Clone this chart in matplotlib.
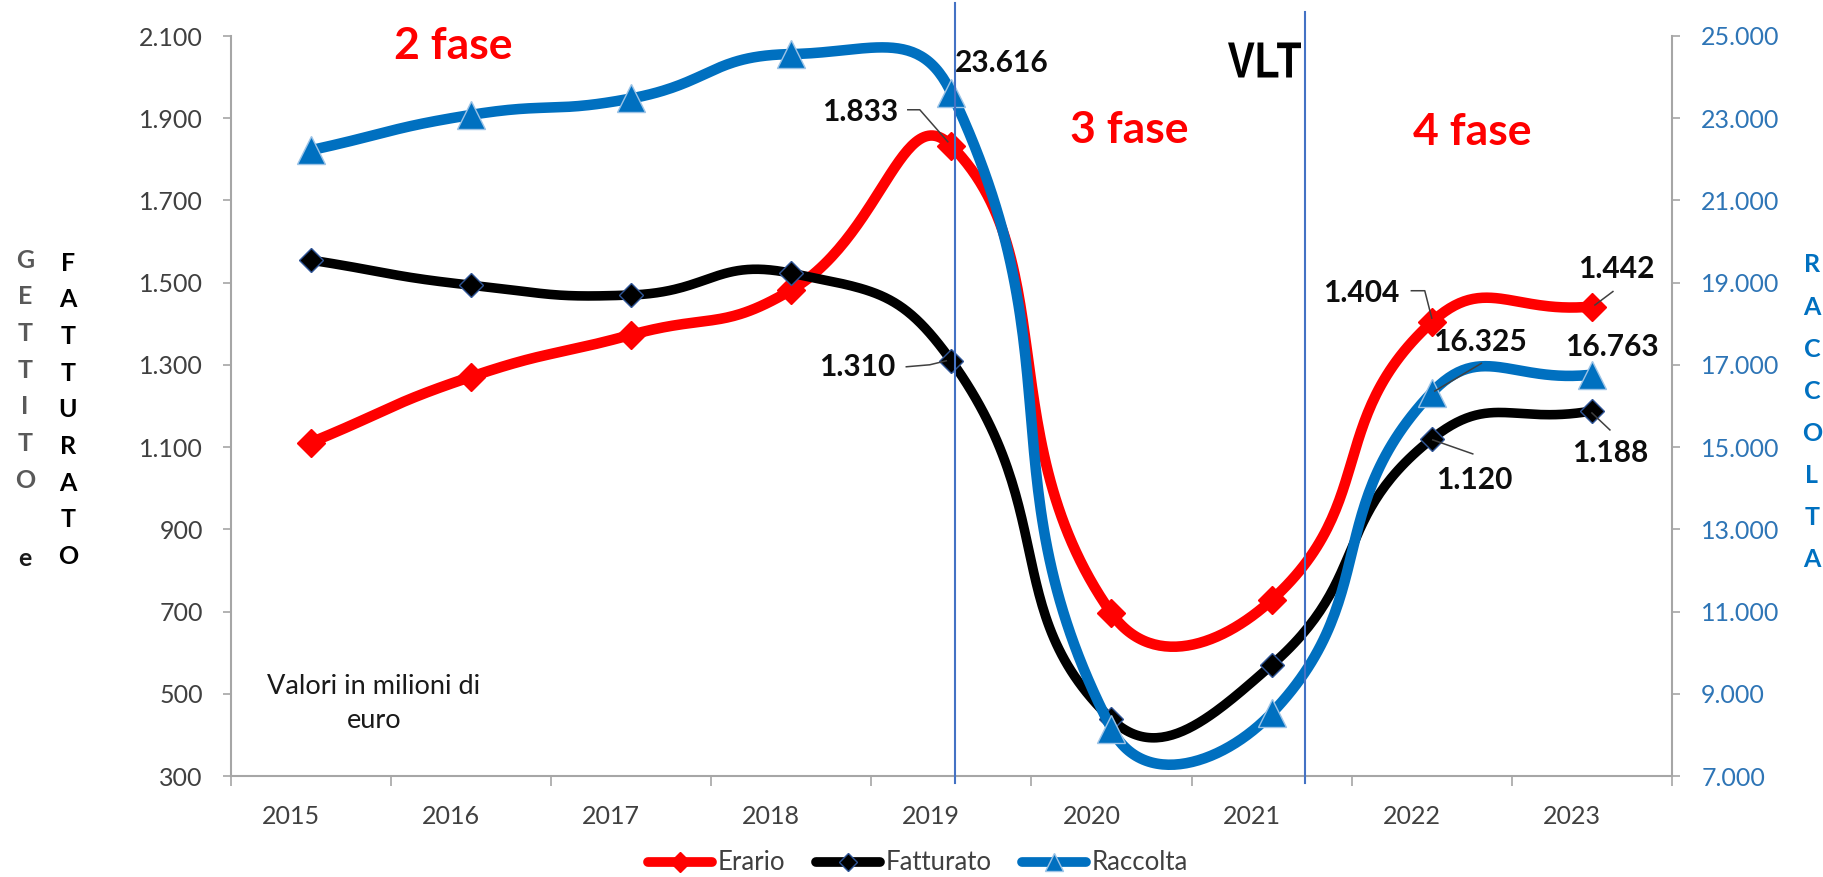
import matplotlib
matplotlib.use('Agg')
import matplotlib.pyplot as plt
import numpy as np
from matplotlib.lines import Line2D
from matplotlib.transforms import IdentityTransform, ScaledTranslation, Affine2D
from matplotlib.textpath import TextPath
from matplotlib.patches import PathPatch
from matplotlib.font_manager import FontProperties
import matplotlib.ticker as mticker

# ---------------- data ----------------
years = ['2015', '2016', '2017', '2018', '2019', '2020', '2021', '2022', '2023']
erario = [1111, 1271, 1373, 1482, 1833, 696, 728, 1404, 1442]
fatturato = [1555, 1494, 1470, 1523, 1310, 438, 570, 1120, 1188]
raccolta = [22220, 23080, 23480, 24560, 23616, 8150, 8525, 16325, 16763]
left_ticks = [300, 500, 700, 900, 1100, 1300, 1500, 1700, 1900, 2100]
right_ticks = [7000, 9000, 11000, 13000, 15000, 17000, 19000, 21000, 23000, 25000]
phase_breaks = [4.02, 6.21]
series_names = ['Erario', 'Fatturato', 'Raccolta']

# ---------------- style ----------------
W, H = 1824, 877
RED = '#FF0000'
BLACK = '#000000'
BLUE = '#0070C0'
GRID_GRAY = '#A6A6A6'
TXT_GRAY = '#404040'
LATO = ['Lato', 'DejaVu Sans']
plt.rcParams['font.family'] = LATO

fig = plt.figure(figsize=(W / 100, H / 100), dpi=100)
ax_l, ax_r, ax_t, ax_b = 230.6, 1672.0, 36.0, 776.0
ax = fig.add_axes([ax_l / W, 1 - ax_b / H, (ax_r - ax_l) / W, (ax_b - ax_t) / H])
ax2 = ax.twinx()

x = np.arange(len(years))
ax.set_xlim(-0.5, len(years) - 0.5)
ax.set_ylim(left_ticks[0], left_ticks[-1])
ax2.set_ylim(right_ticks[0], right_ticks[-1])


def excel_smooth(a_ax, xs, ys, a=0.5, n=60):
    pts = a_ax.transData.transform(np.column_stack([xs, ys]))
    N = len(pts)
    out = [pts[0]]
    for i in range(N - 1):
        p0 = pts[i - 1] if i > 0 else pts[i]
        p1 = pts[i]
        p2 = pts[i + 1]
        p3 = pts[i + 2] if i + 2 < N else pts[i + 1]
        d01 = np.hypot(*(p1 - p0))
        d12 = np.hypot(*(p2 - p1))
        d23 = np.hypot(*(p3 - p2))
        c1 = p1 + (p2 - p0) * a * d12 / (d01 + d12)
        c2 = p2 - (p3 - p1) * a * d12 / (d12 + d23)
        t = np.linspace(0, 1, n)[1:, None]
        seg = (1 - t) ** 3 * p1 + 3 * (1 - t) ** 2 * t * c1 + 3 * (1 - t) * t ** 2 * c2 + t ** 3 * p2
        out.extend(seg)
    return a_ax.transData.inverted().transform(np.array(out))


# lines
sm = excel_smooth(ax, x, erario)
ax.plot(sm[:, 0], sm[:, 1], color=RED, lw=7.6, solid_capstyle='round', solid_joinstyle='round', zorder=3)
ax.plot(x, erario, ls='none', marker='D', ms=14, color=RED, mec=RED, zorder=4)

sm = excel_smooth(ax, x, fatturato)
ax.plot(sm[:, 0], sm[:, 1], color=BLACK, lw=6.9, solid_capstyle='round', solid_joinstyle='round', zorder=5)
ax.plot(x, fatturato, ls='none', marker='D', ms=12, color=BLACK, mec='#2F5597', mew=1.0, zorder=6)

sm = excel_smooth(ax2, x, raccolta)
ax2.plot(sm[:, 0], sm[:, 1], color=BLUE, lw=7.6, solid_capstyle='round', solid_joinstyle='round', zorder=3)
ax2.plot(x, raccolta, ls='none', marker='^', ms=20, color=BLUE, mec='#9DC3E6', mew=1.0, zorder=4)

# phase separator lines (extend above the plot and slightly below axis)
for xb, ytop in zip(phase_breaks, [1.045, 1.033]):
    ax2.plot([xb, xb], [-0.010, ytop], color='#4472C4', lw=1.5,
             transform=ax2.get_xaxis_transform(), clip_on=False, zorder=10)

# ---------------- axes styling ----------------
fmt = mticker.FuncFormatter(lambda v, p: f"{int(round(v)):,}".replace(',', '.'))
ax.set_yticks(left_ticks)
ax.yaxis.set_major_formatter(fmt)
ax2.set_yticks(right_ticks)
ax2.yaxis.set_major_formatter(fmt)

ax.set_xticks(np.arange(-0.5, len(years), 1.0))
ax.set_xticklabels([])
ax.set_xticks(x, minor=True)
ax.set_xticklabels(years, minor=True)
ax.tick_params(axis='x', which='major', length=7, width=1.2, color=GRID_GRAY, direction='out')
ax.tick_params(axis='x', which='minor', length=0, pad=21, labelsize=18, labelcolor=TXT_GRAY)
off = ScaledTranslation(-20 / 100, 0, fig.dpi_scale_trans)
for lab in ax.xaxis.get_minorticklabels():
    lab.set_transform(lab.get_transform() + off)

ax.tick_params(axis='y', length=6, width=1.2, color=GRID_GRAY, pad=14, labelsize=18, labelcolor=TXT_GRAY)
ax2.tick_params(axis='y', length=6, width=1.2, color=GRID_GRAY, pad=15, labelsize=18, labelcolor='#2E75B6')

for a_ in (ax, ax2):
    a_.spines['top'].set_visible(False)
    for s in ('left', 'right', 'bottom'):
        a_.spines[s].set_color(GRID_GRAY)
        a_.spines[s].set_linewidth(1.5)
ax.spines['right'].set_visible(False)
ax2.spines['left'].set_visible(False)
ax2.spines['bottom'].set_visible(False)
ax.patch.set_visible(False)

# ---------------- data labels ----------------
fig.canvas.draw()
LBL = dict(fontsize=21.5, fontweight='bold', color='#0D0D0D', family=LATO)


def label(a_ax, xi, yv, text, dx, dy, ha, leader=None):
    # dx, dy in pixels, dy measured downward
    a_ax.annotate(text, xy=(xi, yv), xytext=(dx, -dy), textcoords='offset pixels',
                  ha=ha, va='center', zorder=12, annotation_clip=False, **LBL)
    if leader:
        px, py = a_ax.transData.transform((xi, yv))
        lx = [px + p[0] for p in leader]
        ly = [py - p[1] for p in leader]
        fig.add_artist(Line2D(lx, ly, transform=IdentityTransform(), color='#404040', lw=1.1, zorder=12))


label(ax, 4, erario[4], '1.833', -53.5, -34, 'right', [(-43.5, -36), (-31.5, -36), (-3.5, -4)])
label(ax, 4, fatturato[4], '1.310', -56.5, 6, 'right', [(-45, 6), (-21.5, 4), (-5, 0)])
label(ax2, 4, raccolta[4], '23.616', 3.5, -30, 'left')
label(ax, 7, erario[7], '1.404', -32, -29, 'right', [(-20.4, -31.4), (-7, -31.4), (0, -4)])
label(ax, 8, erario[8], '1.442', 24, -38, 'center', [(21, -15), (3, -1.5)])
label(ax2, 7, raccolta[7], '16.325', 1, -51, 'left', [(49.6, -29.3), (3, -1.6)])
label(ax2, 8, raccolta[8], '16.763', 20, -28, 'center')
label(ax, 8, fatturato[8], '1.188', 18, 42, 'center', [(18, 19), (0, 2)])
label(ax, 7, fatturato[7], '1.120', 42, 41, 'center', [(41, 15), (1, 1)])


# ---------------- annotation texts ----------------
def ftext(xp, yp, s, **kw):
    fig.text(xp / W, 1 - yp / H, s, **kw)


ftext(453, 46, '2 fase', ha='center', va='center', fontsize=32, fontweight='bold', color=RED)
ftext(1129, 130, '3 fase', ha='center', va='center', fontsize=32, fontweight='bold', color=RED)
ftext(1472, 132, '4 fase', ha='center', va='center', fontsize=32, fontweight='bold', color=RED)

# condensed "VLT" drawn as a horizontally squeezed text path
fp = FontProperties(family=['Liberation Sans', 'DejaVu Sans'], weight='bold')
tp = TextPath((0, 0), 'VLT', size=50, prop=fp)
bb = tp.get_extents()
cx, cy, tw, th = 1264.5, 60.0, 73.0, 35.0
tf = (Affine2D().translate(-(bb.x0 + bb.width / 2), -(bb.y0 + bb.height / 2))
      .scale(tw / bb.width, th / bb.height).translate(cx, H - cy))
fig.add_artist(PathPatch(tf.transform_path(tp), transform=IdentityTransform(),
                         facecolor='black', edgecolor='none', zorder=12))

ftext(374, 687, 'Valori in milioni di', ha='center', va='center', fontsize=19.5, color='#1A1A1A')
ftext(374, 720, 'euro', ha='center', va='center', fontsize=19.5, color='#1A1A1A')

# vertical axis titles (stacked letters)
LET = dict(ha='center', va='center', fontsize=18, fontweight='bold')
for k, ch in enumerate('GETTITO'):
    ftext(25, 260 + 36.67 * k, ch, color='#595959', **LET)
ftext(25, 558, 'e', color='#1A1A1A', **LET)
for k, ch in enumerate('FATTURATO'):
    ftext(68, 263.3 + 36.67 * k, ch, color='black', **LET)
for k, ch in enumerate('RACCOLTA'):
    ftext(1812, 265 + 42.1 * k, ch, color='#0070C0', **LET)

# ---------------- legend ----------------
handles = [
    Line2D([], [], color=RED, lw=7, marker='D', ms=10, mec=RED, solid_capstyle='round'),
    Line2D([], [], color=BLACK, lw=7, marker='D', ms=9, mec='#2F5597', mew=1, solid_capstyle='round'),
    Line2D([], [], color=BLUE, lw=7, marker='^', ms=13, mec='#9DC3E6', mew=1, solid_capstyle='round'),
]
fig.legend(handles, series_names, loc='center', bbox_to_anchor=(918 / W, 1 - 863 / H), ncol=3,
           frameon=False, fontsize=18.5, handlelength=2.5, handletextpad=0.2, columnspacing=1.2,
           labelcolor=TXT_GRAY, borderpad=0)

fig.savefig('out.png', dpi=100)
